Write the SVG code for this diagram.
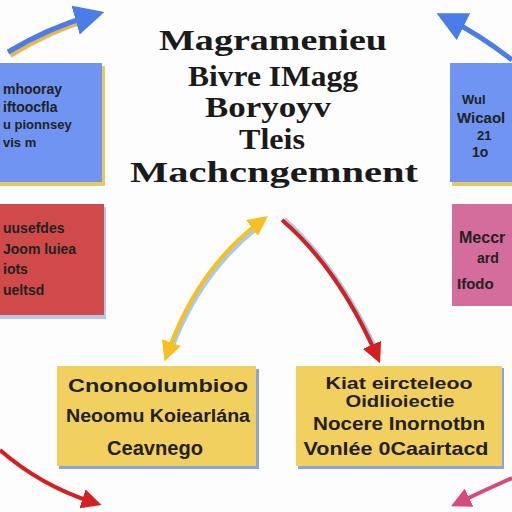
<svg xmlns="http://www.w3.org/2000/svg" width="512" height="512" viewBox="0 0 512 512">
<style>
.title{font-family:"Liberation Serif","DejaVu Serif",serif;font-weight:bold;fill:#1a1a1a;text-anchor:middle}
.lbl{font-family:"Liberation Sans","DejaVu Sans",sans-serif;font-weight:bold;fill:#222}
.c{text-anchor:middle}
.shadow{fill:#e8c860}
</style>
<defs>
<marker id="ab" markerWidth="6" markerHeight="6" refX="3" refY="3" orient="auto" markerUnits="strokeWidth"><path d="M0,0 L6,3 L0,6 Z" fill="#4a7de8"/></marker>
<marker id="ay" markerWidth="5" markerHeight="5" refX="2.5" refY="2.5" orient="auto-start-reverse" markerUnits="strokeWidth"><path d="M0,0 L5,2.5 L0,5 Z" fill="#f5c020"/></marker>
<marker id="ar" markerWidth="5" markerHeight="5" refX="2.5" refY="2.5" orient="auto" markerUnits="strokeWidth"><path d="M0,0 L5,2.5 L0,5 Z" fill="#d42020"/></marker>
<marker id="ap" markerWidth="5" markerHeight="5" refX="2.5" refY="2.5" orient="auto" markerUnits="strokeWidth"><path d="M0,0 L5,2.5 L0,5 Z" fill="#d84a7a"/></marker>
</defs>
<rect width="512" height="512" fill="#fdfdfd"/>
<g id="title">
<text class="title" x="273" y="50" font-size="30" textLength="228" lengthAdjust="spacingAndGlyphs">Magramenieu</text>
<text class="title" x="273" y="86" font-size="30" textLength="170" lengthAdjust="spacingAndGlyphs">Bivre IMagg</text>
<text class="title" x="268" y="117" font-size="30" textLength="126" lengthAdjust="spacingAndGlyphs">Boryoyv</text>
<text class="title" x="272" y="149" font-size="30" textLength="66" lengthAdjust="spacingAndGlyphs">Tleis</text>
<text class="title" x="274" y="182" font-size="30" textLength="288" lengthAdjust="spacingAndGlyphs">Machcngemnent</text>
</g>
<g id="connectors">
<path d="M10,55 Q50,30 92,18" fill="none" stroke="#e8b850" stroke-width="6"/>
<path d="M8,52 Q48,28 90,16" fill="none" stroke="#4a7de8" stroke-width="5" marker-end="url(#ab)"/>
<path d="M512,60 Q480,35 450,20" fill="none" stroke="#4a7de8" stroke-width="5" marker-end="url(#ab)"/>
<path d="M170,352 Q200,270 262,224" fill="none" stroke="#a8c8f0" stroke-width="5"/>
<path d="M168,352 Q198,268 260,222" fill="none" stroke="#f5c020" stroke-width="4" marker-start="url(#ay)" marker-end="url(#ay)"/>
<path d="M284,220 Q340,270 378,356" fill="none" stroke="#a8c8f0" stroke-width="6"/>
<path d="M282,220 Q338,268 376,354" fill="none" stroke="#d42020" stroke-width="4" marker-end="url(#ar)"/>
<path d="M0,450 Q40,485 92,502" fill="none" stroke="#d42020" stroke-width="4" marker-end="url(#ar)"/>
<path d="M512,478 Q485,490 460,502" fill="none" stroke="#d84a7a" stroke-width="4" marker-end="url(#ap)"/>
</g>
<g id="node-blue-left">
<rect x="-5" y="66" width="110" height="120" class="shadow"/>
<rect x="-5" y="63" width="107" height="119" fill="#6f94f2"/>
<text class="lbl" x="3" y="94" font-size="14">mhooray</text>
<text class="lbl" x="3" y="112" font-size="14">iftoocfla</text>
<text class="lbl" x="3" y="129" font-size="13">u pionnsey</text>
<text class="lbl" x="3" y="147" font-size="13">vis m</text>
</g>
<g id="node-blue-right">
<rect x="452" y="66" width="65" height="120" class="shadow"/>
<rect x="450" y="63" width="65" height="119" fill="#6f94f2"/>
<text class="lbl" x="462" y="104" font-size="13">Wul</text>
<text class="lbl" x="457" y="123" font-size="15">Wicaol</text>
<text class="lbl" x="477" y="140" font-size="13">21</text>
<text class="lbl" x="472" y="157" font-size="14">1o</text>
</g>
<g id="node-red-left">
<rect x="-5" y="207" width="111" height="112" fill="#b0c8ee"/>
<rect x="-5" y="204" width="109" height="111" fill="#d04a4a"/>
<text class="lbl" x="3" y="233" font-size="14">uusefdes</text>
<text class="lbl" x="3" y="254" font-size="14">Joom luiea</text>
<text class="lbl" x="3" y="274" font-size="14">iots</text>
<text class="lbl" x="3" y="295" font-size="14">ueltsd</text>
</g>
<g id="node-pink-right">
<rect x="452" y="204" width="65" height="102" fill="#d46c9c"/>
<text class="lbl" x="459" y="243" font-size="16">Meccr</text>
<text class="lbl" x="477" y="263" font-size="14">ard</text>
<text class="lbl" x="457" y="289" font-size="15">Ifodo</text>
</g>
<g id="node-yellow-left">
<rect x="59" y="369" width="200" height="100" fill="#8aa4e0"/>
<rect x="57" y="366" width="199" height="100" fill="#f2d060"/>
<text class="lbl c" x="158" y="392" font-size="19" textLength="180" lengthAdjust="spacingAndGlyphs">Cnonoolumbioo</text>
<text class="lbl c" x="158" y="422" font-size="18" textLength="184" lengthAdjust="spacingAndGlyphs">Neoomu Koiearlána</text>
<text class="lbl c" x="155" y="455" font-size="20" textLength="96" lengthAdjust="spacingAndGlyphs">Ceavnego</text>
</g>
<g id="node-yellow-right">
<rect x="298" y="368" width="206" height="101" fill="#8aa4e0"/>
<rect x="296" y="366" width="206" height="100" fill="#f2d060"/>
<text class="lbl c" x="399" y="389" font-size="17" textLength="147" lengthAdjust="spacingAndGlyphs">Kiat eircteleoo</text>
<text class="lbl c" x="400" y="407" font-size="16" textLength="109" lengthAdjust="spacingAndGlyphs">Oidlioiectie</text>
<text class="lbl c" x="399" y="430" font-size="19" textLength="172" lengthAdjust="spacingAndGlyphs">Nocere Inornotbn</text>
<text class="lbl c" x="396" y="455" font-size="19" textLength="185" lengthAdjust="spacingAndGlyphs">Vonlée 0Caairtacd</text>
</g>
</svg>
